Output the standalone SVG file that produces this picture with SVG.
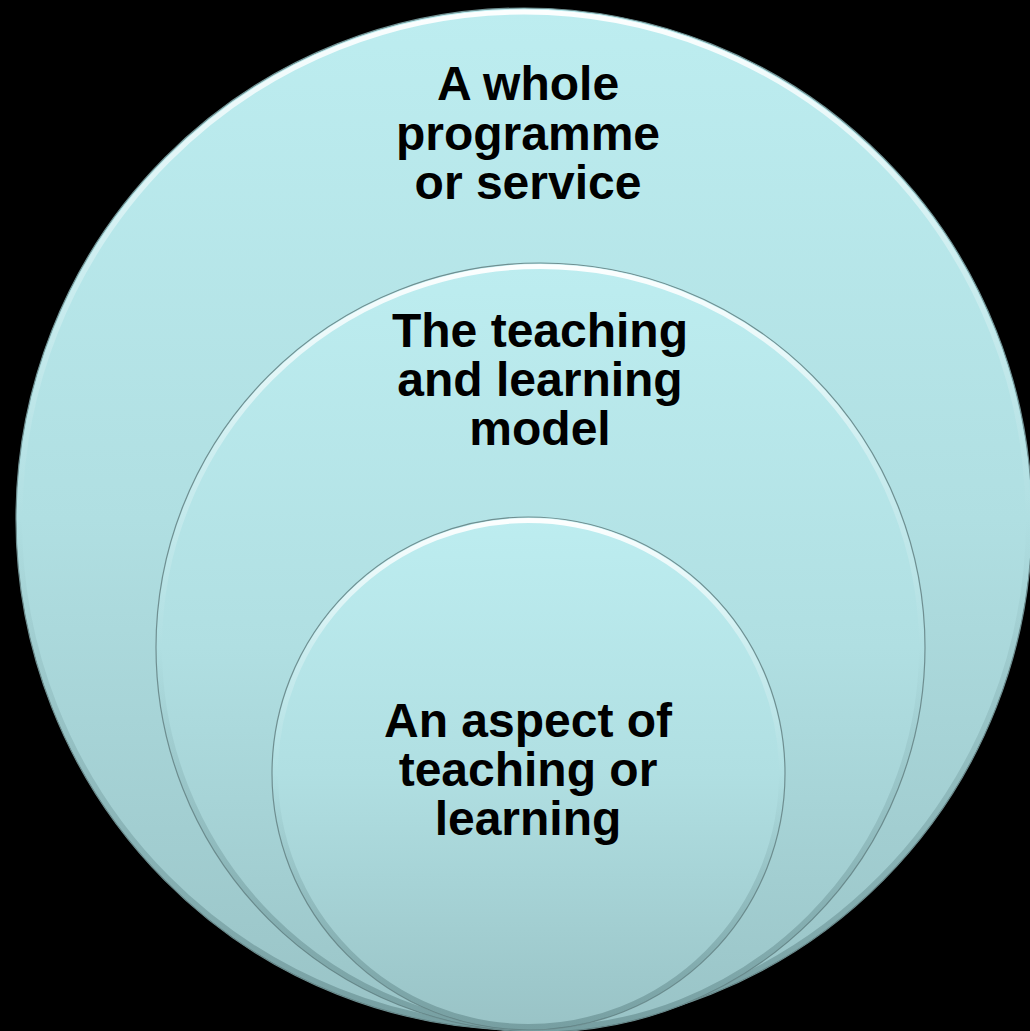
<svg xmlns="http://www.w3.org/2000/svg" width="1030" height="1031" viewBox="0 0 1030 1031">
<defs>
<style>
.lbl{font-family:"Liberation Sans",Arial,sans-serif;font-weight:bold;font-size:48px;fill:#000;text-anchor:middle}
.disc{fill:url(#fillg);stroke:#6f8f91;stroke-width:1.2}
.hl{fill:none;stroke:url(#hlg);stroke-width:5}
.sh{fill:none;stroke:url(#shg);stroke-width:6}
</style>
<linearGradient id="fillg" x1="0" y1="0" x2="0" y2="1">
<stop offset="0" stop-color="#bdedf0"/>
<stop offset="0.5" stop-color="#b0dfe2"/>
<stop offset="1" stop-color="#99c3c6"/>
</linearGradient>
<linearGradient id="hlg" x1="0" y1="0" x2="0" y2="1">
<stop offset="0" stop-color="#ffffff" stop-opacity="0.95"/>
<stop offset="0.25" stop-color="#ffffff" stop-opacity="0.3"/>
<stop offset="0.5" stop-color="#ffffff" stop-opacity="0"/>
</linearGradient>
<linearGradient id="shg" x1="0" y1="0" x2="0" y2="1">
<stop offset="0.5" stop-color="#4d7375" stop-opacity="0"/>
<stop offset="1" stop-color="#4d7375" stop-opacity="0.45"/>
</linearGradient>
</defs>
<rect width="1030" height="1031" fill="#000"/>
<g id="outer">
<ellipse class="disc" cx="524" cy="519" rx="508" ry="511"/>
<ellipse class="hl" cx="524" cy="519" rx="504" ry="507"/>
<ellipse class="sh" cx="524" cy="519" rx="505" ry="508"/>
<text class="lbl" x="528" y="100">A whole</text>
<text class="lbl" x="528" y="150">programme</text>
<text class="lbl" x="528" y="199">or service</text>
</g>
<g id="middle">
<circle class="disc" cx="540.5" cy="647.5" r="384.5"/>
<circle class="hl" cx="540.5" cy="647.5" r="381"/>
<circle class="sh" cx="540.5" cy="647.5" r="381.5"/>
<text class="lbl" x="540" y="347">The teaching</text>
<text class="lbl" x="540" y="396">and learning</text>
<text class="lbl" x="540" y="445">model</text>
</g>
<g id="inner">
<circle class="disc" cx="528.5" cy="773.5" r="256.5"/>
<circle class="hl" cx="528.5" cy="773.5" r="253"/>
<circle class="sh" cx="528.5" cy="773.5" r="253.5"/>
<text class="lbl" x="528" y="737">An aspect of</text>
<text class="lbl" x="528" y="786">teaching or</text>
<text class="lbl" x="528" y="835">learning</text>
</g>
<g id="connectors"/>
</svg>
